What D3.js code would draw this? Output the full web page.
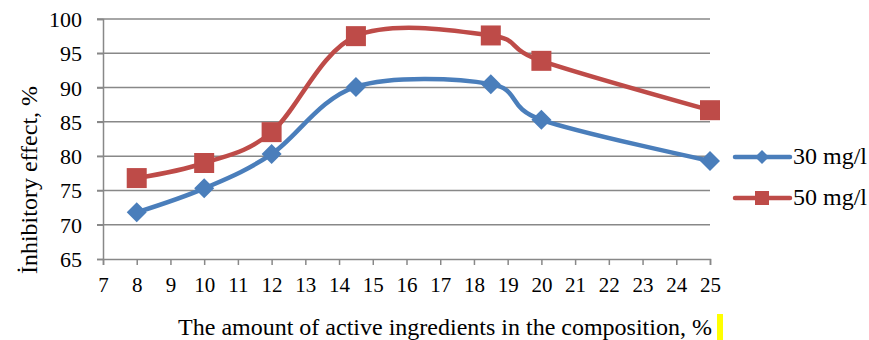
<!DOCTYPE html>
<html><head><meta charset="utf-8">
<script src="https://cdn.jsdelivr.net/npm/d3@7/dist/d3.min.js"></script>
<style>
body{margin:0;background:#fff;}
svg{display:block;}
svg text{font-family:"Liberation Serif","Times New Roman",serif !important;fill:#000;}
</style></head>
<body><svg id="c" width="869" height="340"></svg>
<script>
const xValues = [8, 10, 12, 14.5, 18.5, 20, 25];
const series30 = [71.8, 75.3, 80.3, 90.1, 90.5, 85.3, 79.3];
const series50 = [76.8, 79.0, 83.5, 97.5, 97.6, 93.9, 86.7];
const seriesNames = ["30 mg/l", "50 mg/l"];
const xTicks = d3.range(7, 26, 1);
const yTicks = [65, 70, 75, 80, 85, 90, 95, 100];
const xTitle = "The amount of active ingredients in the composition, %";
const yTitle = "İnhibitory effect, %";

const svg = d3.select("#c");
const L = 103, R = 710, T = 19, B = 259;
const x = d3.scaleLinear().domain([7, 25]).range([L, R]);
const y = d3.scaleLinear().domain([65, 100]).range([B, T]);
const grey = "#888888";

// gridlines
svg.append("g").selectAll("line").data(yTicks.filter(d => d > 65)).join("line")
  .attr("x1", L - 6).attr("x2", R).attr("y1", d => y(d)).attr("y2", d => y(d))
  .attr("stroke", grey).attr("stroke-width", 1.5);

// y axis
const ya = svg.append("g").attr("transform", `translate(${L},0)`)
  .call(d3.axisLeft(y).tickValues(yTicks).tickSize(6).tickPadding(15));
ya.attr("font-family", null).attr("font-size", null);
ya.select(".domain").attr("stroke", grey).attr("stroke-width", 1.5);
ya.selectAll(".tick line").attr("stroke", grey).attr("stroke-width", 1.5);
ya.selectAll("text").style("font-size", "22px").attr("dy", "0.34em");

// x axis
const xa = svg.append("g").attr("transform", `translate(0,${B})`)
  .call(d3.axisBottom(x).tickValues(xTicks).tickSize(6).tickPadding(12));
xa.attr("font-family", null).attr("font-size", null);
xa.select(".domain").attr("stroke", grey).attr("stroke-width", 1.5);
xa.selectAll(".tick line").attr("stroke", grey).attr("stroke-width", 1.5);
xa.selectAll("text").style("font-size", "21px");

const colors = ["#4a7ebb", "#be4b48"];
const line = d3.line().x(d => x(d[0])).y(d => y(d[1])).curve(d3.curveCardinal.tension(0));
const data = [series30, series50].map(s => xValues.map((v, i) => [v, s[i]]));

data.forEach((pts, k) => {
  svg.append("path").attr("d", line(pts)).attr("fill", "none")
    .attr("stroke", colors[k]).attr("stroke-width", 4.5).attr("stroke-linejoin", "round");
});
function marker(g, k, cx, cy) {
  if (k === 0) {
    g.append("path").attr("d", `M${cx},${cy-10}L${cx+10},${cy}L${cx},${cy+10}L${cx-10},${cy}Z`).attr("fill", colors[0]);
  } else {
    g.append("rect").attr("x", cx - 10).attr("y", cy - 10).attr("width", 20).attr("height", 20).attr("fill", colors[1]);
  }
}
data.forEach((pts, k) => {
  const g = svg.append("g");
  pts.forEach(p => marker(g, k, x(p[0]), y(p[1])));
});

// legend
seriesNames.forEach((n, k) => {
  const ly = 157 + k * 41;
  svg.append("line").attr("x1", 735).attr("x2", 790).attr("y1", ly).attr("y2", ly)
    .attr("stroke", colors[k]).attr("stroke-width", 4.5).attr("stroke-linecap", "round");
  const g = svg.append("g");
  if (k === 0) g.append("path").attr("d", `M762,${ly-7}L769,${ly}L762,${ly+7}L755,${ly}Z`).attr("fill", colors[0]);
  else g.append("rect").attr("x", 755).attr("y", ly - 7).attr("width", 14).attr("height", 14).attr("fill", colors[1]);
  svg.append("text").attr("x", 793).attr("y", ly + 7).style("font-size", "24px").text(n);
});

// titles
svg.append("text").attr("x", 445).attr("y", 335).attr("text-anchor", "middle").style("font-size", "24px").text(xTitle);
svg.append("text").attr("transform", "translate(37,180) rotate(-90)").attr("text-anchor", "middle").style("font-size", "24px").text(yTitle);
svg.append("rect").attr("x", 717).attr("y", 314).attr("width", 6).attr("height", 26).attr("fill", "#ffff00");
</script></body></html>
